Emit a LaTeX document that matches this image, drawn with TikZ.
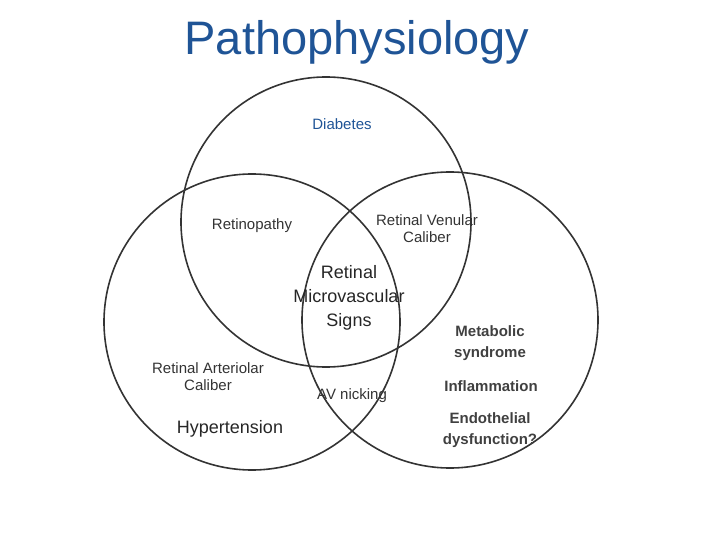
\documentclass[tikz,border=0pt]{standalone}
\usepackage{fontspec}
\setmainfont{Liberation Sans}
\begin{document}
\begin{tikzpicture}[x=1pt,y=-1pt,
  circ/.style={draw=black!80,line width=1.6pt},
  lab/.style={align=center,font=\fontsize{15}{17}\selectfont,text=black!80},
  blab/.style={align=center,font=\fontsize{15}{21}\selectfont\bfseries,text=black!75}]
\useasboundingbox (0,0) rectangle (720,540);
\draw[circ] (326,222) circle (145);
\draw[circ] (252,322) circle (148);
\draw[circ] (450,320) circle (148);
\node[font=\fontsize{47}{50}\selectfont,text={rgb,255:red,31;green,84;blue,150}] (t) at (357,42) {Pathophysiology};
\node[lab,text={rgb,255:red,31;green,84;blue,150}] (d) at (342,124) {Diabetes};
\node[lab] (r) at (252,226) {Retinopathy};
\node[lab] (v) at (427,229) {Retinal Venular\\Caliber};
\node[align=center,font=\fontsize{18}{24}\selectfont,text=black!85] (m) at (349,298) {Retinal\\Microvascular\\Signs};
\node[blab] (ms) at (490,343) {Metabolic\\syndrome};
\node[lab] (a) at (208,377) {Retinal Arteriolar\\Caliber};
\node[lab] (av) at (352,396) {AV nicking};
\node[blab] (inf) at (491,386) {Inflammation};
\node[blab] (e) at (490,430) {Endothelial\\dysfunction?};
\node[align=center,font=\fontsize{18}{20}\selectfont,text=black!85] (h) at (230,429) {Hypertension};
\end{tikzpicture}
\end{document}
